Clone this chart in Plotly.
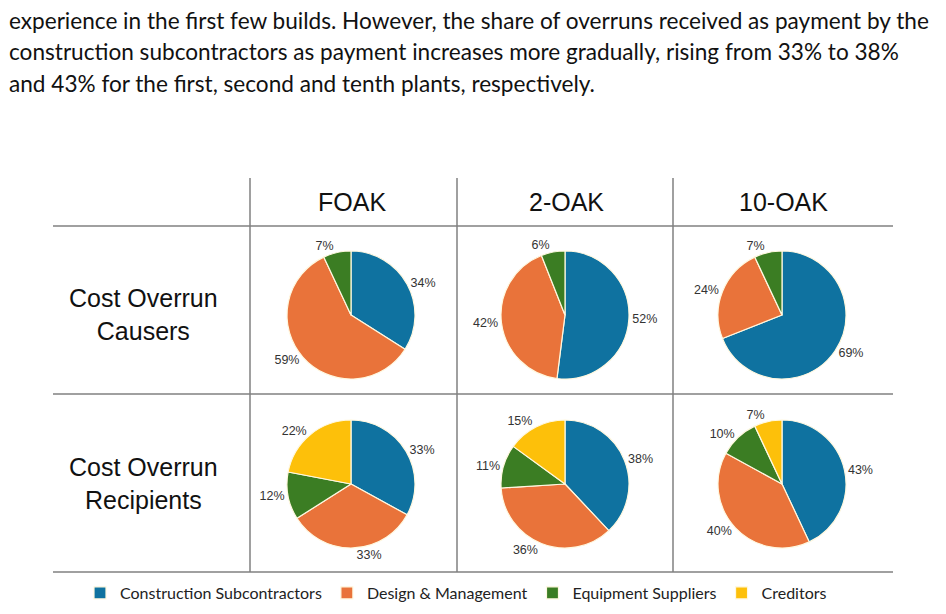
import plotly.graph_objects as go

# data
groups = ["Construction Subcontractors", "Design & Management", "Equipment Suppliers", "Creditors"]
columns = ["FOAK", "2-OAK", "10-OAK"]
rows = ["Cost Overrun<br>Causers", "Cost Overrun<br>Recipients"]

causers_foak = [34, 59, 7]
causers_2oak = [52, 42, 6]
causers_10oak = [69, 24, 7]

recipients_foak = [33, 33, 12, 22]
recipients_2oak = [38, 36, 11, 15]
recipients_10oak = [43, 40, 10, 7]

paragraph = [
    "experience in the first few builds. However, the share of overruns received as payment by the",
    "construction subcontractors as payment increases more gradually, rising from 33% to 38%",
    "and 43% for the first, second and tenth plants, respectively.",
]

colors = ["#0F72A0", "#E9733A", "#3B7D23", "#FDC00A"]

# the page has an 8px body margin, so the figure is a bit smaller than the window
PAGE = 8
W, H = 946 - PAGE, 614 - PAGE


def px(x):
    return (x - PAGE) / W


def py(y):
    return 1 - (y - PAGE) / H


# page-pixel layout of the table
col_x = [351, 565, 782]
row_y = [315, 484]
rad = 64

fig = go.Figure()

all_vals = [[causers_foak, causers_2oak, causers_10oak],
            [recipients_foak, recipients_2oak, recipients_10oak]]

for r, vals_row in enumerate(all_vals):
    for c, vals in enumerate(vals_row):
        cx, cy = col_x[c], row_y[r]
        fig.add_trace(go.Pie(
            labels=groups[:len(vals)],
            values=vals,
            sort=False,
            direction="clockwise",
            rotation=0,
            marker=dict(colors=colors[:len(vals)], line=dict(color="#FFF8E0", width=1.2)),
            texttemplate="%{value}%",
            textposition="outside",
            textfont=dict(family="Liberation Sans", size=12.5, color="#333333"),
            hoverinfo="label+percent",
            showlegend=(r == 1 and c == 0),
            domain=dict(x=[px(cx - rad), px(cx + rad)],
                        y=[py(cy + rad), py(cy - rad)]),
        ))

# table lines
line_style = dict(color="#808080", width=1.5)
for y in [226, 394, 572]:
    fig.add_shape(type="line", xref="paper", yref="paper",
                  x0=px(53), x1=px(893), y0=py(y), y1=py(y), line=line_style)
for x in [250, 457, 673]:
    fig.add_shape(type="line", xref="paper", yref="paper",
                  x0=px(x), x1=px(x), y0=py(178), y1=py(572), line=line_style)

# column headers
for c, name in enumerate(columns):
    fig.add_annotation(text=name, x=px(col_x[c] + 1), y=py(202), xref="paper", yref="paper",
                       xanchor="center", yanchor="middle", showarrow=False,
                       font=dict(family="Liberation Sans", size=25, color="#111111"))

# row headers
for r, name in enumerate(rows):
    fig.add_annotation(text=name, x=px(143), y=py(row_y[r] - 1), xref="paper", yref="paper",
                       xanchor="center", yanchor="middle", showarrow=False, align="center",
                       font=dict(family="Liberation Sans", size=25, color="#111111"))

# paragraph text above the chart
for i, line in enumerate(paragraph):
    fig.add_annotation(text=line, x=0, y=py(21 + 31 * i), xref="paper", yref="paper",
                       xanchor="left", yanchor="middle", showarrow=False, borderpad=0,
                       font=dict(family="Lato", size=22.6, color="#111111"))

fig.update_layout(
    width=W, height=H,
    margin=dict(l=0, r=0, t=0, b=0),
    paper_bgcolor="white",
    plot_bgcolor="white",
    legend=dict(orientation="h", x=px(456), xanchor="center", y=py(593), yanchor="middle",
                font=dict(family="Lato", size=16, color="#222222"),
                itemwidth=30, traceorder="normal"),
)

fig.write_html("out.html")
